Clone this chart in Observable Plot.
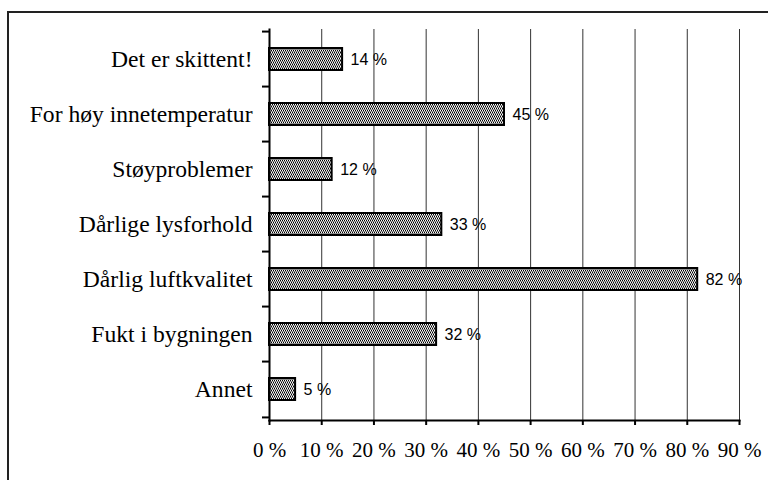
<!DOCTYPE html>
<html>
<head>
<meta charset="utf-8">
<script src="https://cdn.jsdelivr.net/npm/d3@7"></script>
<script src="https://cdn.jsdelivr.net/npm/@observablehq/plot@0.6"></script>
<style>
  html, body { margin: 0; padding: 0; background: #fff; }
  #chart svg { display: block; }
</style>
</head>
<body>
<div id="chart"></div>
<script>
const categories = ["Det er skittent!", "For høy innetemperatur", "Støyproblemer", "Dårlige lysforhold", "Dårlig luftkvalitet", "Fukt i bygningen", "Annet"];
const values = [14, 45, 12, 33, 82, 32, 5];
const xTicks = [0, 10, 20, 30, 40, 50, 60, 70, 80, 90];

const data = categories.map((c, i) => ({cat: c, value: values[i]}));

const W = 768, H = 480, mL = 269, mR = 29, mT = 29, mB = 60;
const halfStep = (H - mT - mB) / categories.length / 2;

const chart = Plot.plot({
  width: W,
  height: H,
  marginLeft: mL,
  marginRight: mR,
  marginTop: mT,
  marginBottom: mB,
  style: {fontFamily: "'Liberation Serif', 'Times New Roman', serif", fontSize: "21px", color: "black", background: "white"},
  x: {domain: [0, 90]},
  y: {domain: categories, paddingInner: 0.595, paddingOuter: 0.2975, align: 0.5},
  marks: [
    Plot.ruleX(xTicks.slice(1), {stroke: "#333", strokeWidth: 1}),
    Plot.barX(data, {x: "value", y: "cat", fill: "url(#chk)", stroke: "black", strokeWidth: 2}),
    Plot.text(data, {x: "value", y: "cat", text: d => d.value + " %", dx: 8, textAnchor: "start",
      fontFamily: "'Liberation Sans', Arial, sans-serif", fontSize: 16, fill: "black"}),
    Plot.frame({anchor: "left", stroke: "black", strokeWidth: 2}),
    Plot.frame({anchor: "bottom", stroke: "black", strokeWidth: 2}),
    Plot.axisY({tickSize: 0, tickPadding: 17, fontSize: 23.6, label: null}),
    Plot.axisY({tickSize: 7, tickFormat: () => "", label: null, dy: -halfStep, strokeWidth: 2, stroke: "black"}),
    Plot.axisY({ticks: [categories[categories.length - 1]], tickSize: 7, tickFormat: () => "", label: null, dy: halfStep, strokeWidth: 2, stroke: "black"}),
    Plot.axisX({ticks: xTicks, tickSize: 5, tickPadding: 17, tickFormat: d => d + " %", label: null, fontSize: 21, strokeWidth: 2})
  ]
});

const svg = d3.select(chart);
const defs = svg.insert("defs", ":first-child");
const pat = defs.append("pattern").attr("id", "chk").attr("patternUnits", "userSpaceOnUse")
  .attr("width", 2).attr("height", 4);
pat.append("rect").attr("width", 2).attr("height", 4).attr("fill", "#ffffff");
pat.append("rect").attr("x", 0).attr("y", 0).attr("width", 1).attr("height", 1).attr("fill", "#000000");
pat.append("rect").attr("x", 0).attr("y", 1).attr("width", 2).attr("height", 1).attr("fill", "#8c8c8c");
pat.append("rect").attr("x", 1).attr("y", 2).attr("width", 1).attr("height", 1).attr("fill", "#000000");
pat.append("rect").attr("x", 0).attr("y", 3).attr("width", 2).attr("height", 1).attr("fill", "#8c8c8c");

svg.append("rect").attr("x", 8).attr("y", 12).attr("width", W).attr("height", H)
  .attr("fill", "none").attr("stroke", "#222").attr("stroke-width", 2);

document.getElementById("chart").appendChild(chart);
</script>
</body>
</html>
